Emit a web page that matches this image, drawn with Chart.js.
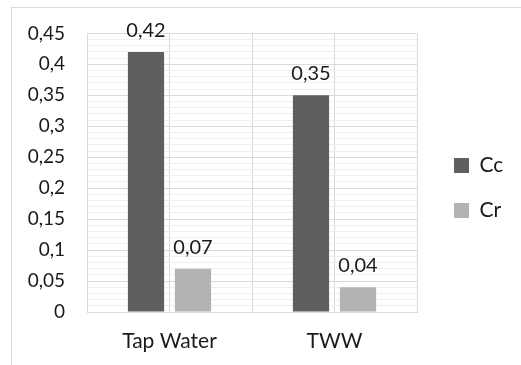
<!DOCTYPE html>
<html>
<head>
<meta charset="utf-8">
<script src="https://cdn.jsdelivr.net/npm/chart.js@4.4.1/dist/chart.umd.min.js"></script>
<style>
  html, body { margin: 0; padding: 0; background: #fff; }
  #wrap { position: relative; width: 521px; height: 365px; overflow: hidden; }
  #frame { position: absolute; left: 11px; top: 7px; width: 600px; height: 500px; border: 1px solid #d9d9d9; }
  #c { position: absolute; left: 0; top: 0; }
</style>
</head>
<body>
<div id="wrap">
  <div id="frame"></div>
  <canvas id="c" width="521" height="365"></canvas>
</div>
<script>
const categories = ["Tap Water", "TWW"];
const ccValues = [0.42, 0.35];
const crValues = [0.07, 0.04];
const yMax = 0.45;
const yMinorStep = 0.01;
const yMajorStep = 0.05;

const FONT = "Lato";
const TEXT = "#1a1a1a";

const fmt = v => String(Math.round(v * 100) / 100).replace(".", ",");
const isMajor = v => Math.abs(Math.round(v / yMinorStep) % Math.round(yMajorStep / yMinorStep)) === 0;

// value labels above the bars
const barLabels = {
  id: "barLabels",
  afterDatasetsDraw(chart) {
    const ctx = chart.ctx;
    ctx.save();
    ctx.font = "20px " + FONT;
    ctx.fillStyle = TEXT;
    ctx.textAlign = "center";
    ctx.textBaseline = "alphabetic";
    chart.data.datasets.forEach((ds, i) => {
      chart.getDatasetMeta(i).data.forEach((bar, j) => {
        ctx.fillText(fmt(ds.data[j]), bar.x, bar.y - 15);
      });
    });
    ctx.restore();
  }
};

function draw() {
  new Chart(document.getElementById("c"), {
    type: "bar",
    data: {
      labels: categories,
      datasets: [
        { label: "Cc", data: ccValues, backgroundColor: "#5f5f5f", categoryPercentage: 0.57, barPercentage: 0.77 },
        { label: "Cr", data: crValues, backgroundColor: "#b3b3b3", categoryPercentage: 0.57, barPercentage: 0.77 }
      ]
    },
    options: {
      responsive: false,
      animation: false,
      layout: { padding: { top: 21, left: 0, right: 11, bottom: 10 } },
      plugins: {
        tooltip: { enabled: false },
        legend: {
          position: "right",
          align: "center",
          maxWidth: 80,
          labels: {
            boxWidth: 15,
            boxHeight: 15,
            padding: 24,
            color: TEXT,
            font: { family: FONT, size: 21 }
          }
        }
      },
      scales: {
        x: {
          grid: { color: "#d9d9d9", drawTicks: false },
          border: { color: "#d9d9d9" },
          ticks: { color: TEXT, padding: 17, font: { family: FONT, size: 21 } },
          afterFit(s) { s.height = 365 - 10 - 312; }
        },
        x2: {
          type: "category",
          labels: categories,
          position: "top",
          offset: true,
          grid: { offset: false, color: "#d9d9d9", drawTicks: false },
          border: { display: false },
          ticks: { display: false },
          afterFit(s) { s.height = 11; }
        },
        y: {
          min: 0,
          max: yMax,
          grid: {
            drawTicks: false,
            color: ctx => isMajor(ctx.tick.value) ? "#d9d9d9" : "#efefef"
          },
          border: { color: "#d9d9d9" },
          ticks: {
            stepSize: yMinorStep,
            autoSkip: false,
            padding: 22,
            color: TEXT,
            font: { family: FONT, size: 19 },
            callback: v => isMajor(v) ? fmt(v) : ""
          },
          afterFit(s) { s.width = 87; }
        },
        // spacer between plot and legend
        yPad: {
          position: "right",
          display: true,
          grid: { display: false },
          border: { display: false },
          ticks: { display: false },
          afterFit(s) { s.width = 13; }
        }
      }
    },
    plugins: [barLabels]
  });
}

document.fonts.load("20px " + FONT).then(draw, draw);
</script>
</body>
</html>
